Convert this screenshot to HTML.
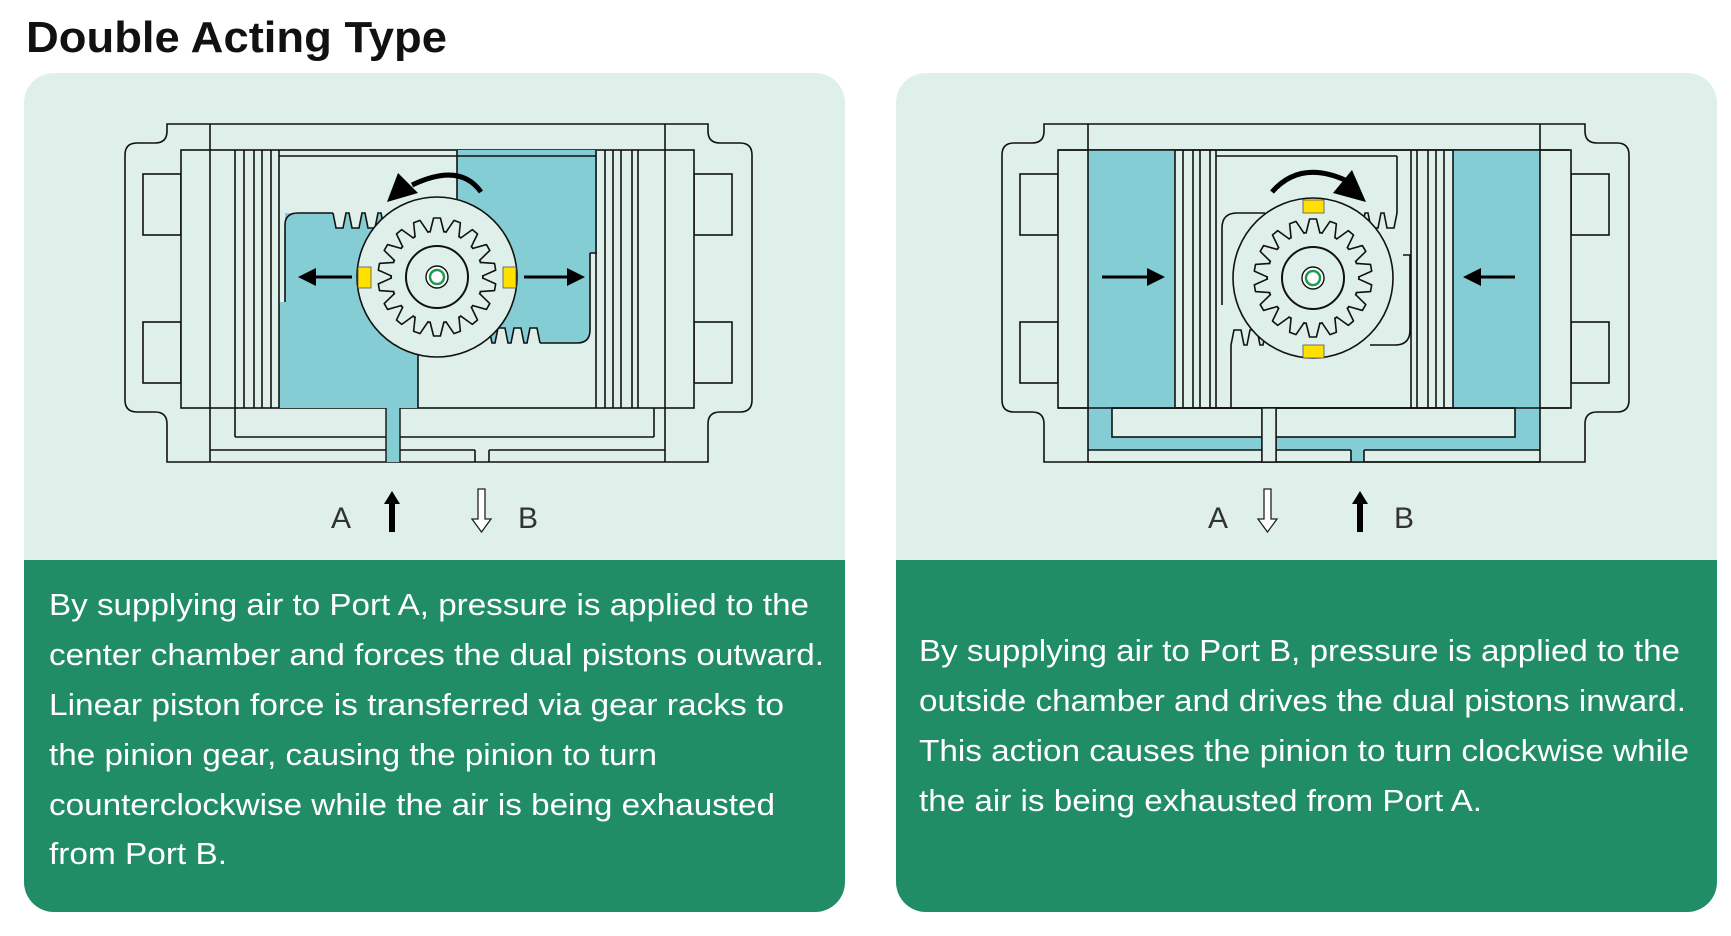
<!DOCTYPE html>
<html><head><meta charset="utf-8"><style>
html,body{margin:0;padding:0;background:#fff;}
svg{display:block;}
text{font-family:"Liberation Sans",sans-serif;}
</style></head><body>
<svg width="1731" height="936" viewBox="0 0 1731 936" xmlns="http://www.w3.org/2000/svg">
<defs>
<clipPath id="c1"><rect x="24" y="73" width="821" height="839" rx="30"/></clipPath>
<clipPath id="c2"><rect x="896" y="73" width="821" height="839" rx="30"/></clipPath>
<g id="body">
  <path d="M167,124 H708 V131 Q708,143 720,143 H740 Q752,143 752,155 V400 Q752,412 740,412 H720 Q708,412 708,424 V462 H167 V424 Q167,412 155,412 H137 Q125,412 125,400 V155 Q125,143 137,143 H155 Q167,143 167,131 Z" fill="#dfefe9" stroke="#111" stroke-width="1.6"/>
  <rect x="143" y="174" width="38" height="61" fill="#dfefe9" stroke="#111" stroke-width="1.6"/>
  <rect x="143" y="322" width="38" height="61" fill="#dfefe9" stroke="#111" stroke-width="1.6"/>
  <rect x="694" y="174" width="38" height="61" fill="#dfefe9" stroke="#111" stroke-width="1.6"/>
  <rect x="694" y="322" width="38" height="61" fill="#dfefe9" stroke="#111" stroke-width="1.6"/>
  <rect x="181" y="150" width="513" height="258" fill="#dfefe9" stroke="#111" stroke-width="1.6"/>
</g>
<polygon id="tooth" points="-6.8,-40 -6.8,-45.5 -3.4,-59 3.4,-59 6.8,-45.5 6.8,-40" fill="#dfefe9" stroke="#111" stroke-width="1.6" stroke-linejoin="round"/>
<g id="gear">
  <circle r="80" fill="#dfefe9" stroke="#111" stroke-width="1.6"/>
  <circle r="46" fill="#dfefe9" stroke="#111" stroke-width="1.6"/>
  <use href="#tooth" transform="rotate(0)"/><use href="#tooth" transform="rotate(20)"/><use href="#tooth" transform="rotate(40)"/>
  <use href="#tooth" transform="rotate(60)"/><use href="#tooth" transform="rotate(80)"/><use href="#tooth" transform="rotate(100)"/>
  <use href="#tooth" transform="rotate(120)"/><use href="#tooth" transform="rotate(140)"/><use href="#tooth" transform="rotate(160)"/>
  <use href="#tooth" transform="rotate(180)"/><use href="#tooth" transform="rotate(200)"/><use href="#tooth" transform="rotate(220)"/>
  <use href="#tooth" transform="rotate(240)"/><use href="#tooth" transform="rotate(260)"/><use href="#tooth" transform="rotate(280)"/>
  <use href="#tooth" transform="rotate(300)"/><use href="#tooth" transform="rotate(320)"/><use href="#tooth" transform="rotate(340)"/>
  <circle r="45" fill="#dfefe9"/>
  <circle r="31" fill="none" stroke="#111" stroke-width="2"/>
  <circle r="11" fill="#fff" stroke="#111" stroke-width="1.4"/>
  <circle r="7" fill="none" stroke="#1e9a50" stroke-width="2.5"/>
</g>
</defs>

<text x="26" y="52" font-size="44" font-weight="bold" fill="#111" textLength="421" lengthAdjust="spacingAndGlyphs">Double Acting Type</text>

<!-- LEFT CARD -->
<g clip-path="url(#c1)">
  <rect x="24" y="73" width="821" height="839" fill="#dfefe9"/>
  <rect x="24" y="560" width="821" height="352" fill="#218d67"/>
</g>
<use href="#body"/>
<path d="M285,213 H378 L400,230 L418,343 V408 H279 V302 H285 Z" fill="#84cdd4"/>
<path d="M285,302 V225 Q285,213 298,213 H333" fill="none" stroke="#111" stroke-width="1.6"/>
<path d="M457,150 H597 V253 H590 V330 Q590,343 577,343 H480 L470,330 L457,290 Z" fill="#84cdd4"/>
<path d="M590,253 H597 M590,253 V330 Q590,343 577,343 H540" fill="none" stroke="#111" stroke-width="1.6"/>
<path d="M457,150 V200 M418,343 V408" stroke="#111" stroke-width="1.6"/>
<path d="M333,213 l3,15 h7 l3,-15 h3 l3,15 h7 l3,-15 h3 l3,15 h7 l3,-15 h3 l3,15 h7 l3,-15" fill="#dfefe9" stroke="#111" stroke-width="1.6"/>
<path d="M540,343 l-3,-15 h-7 l-3,15 h-3 l-3,-15 h-7 l-3,15 h-3 l-3,-15 h-7 l-3,15 h-3 l-3,-15 h-7 l-3,15" fill="#dfefe9" stroke="#111" stroke-width="1.6"/>
<g stroke="#111" stroke-width="1.6">
<line x1="235" y1="150" x2="235" y2="408"/><line x1="244" y1="150" x2="244" y2="408"/><line x1="254" y1="150" x2="254" y2="408"/><line x1="262" y1="150" x2="262" y2="408"/><line x1="271" y1="150" x2="271" y2="408"/><line x1="279" y1="150" x2="279" y2="408"/>
<line x1="596" y1="150" x2="596" y2="408"/><line x1="605" y1="150" x2="605" y2="408"/><line x1="613" y1="150" x2="613" y2="408"/><line x1="621" y1="150" x2="621" y2="408"/><line x1="632" y1="150" x2="632" y2="408"/><line x1="638" y1="150" x2="638" y2="408"/>
<line x1="279" y1="156" x2="596" y2="156"/>
<line x1="210" y1="124" x2="210" y2="462"/><line x1="665" y1="124" x2="665" y2="462"/>
<line x1="235" y1="408" x2="235" y2="437"/><line x1="654" y1="408" x2="654" y2="437"/>
<line x1="235" y1="437" x2="386" y2="437"/><line x1="400" y1="437" x2="654" y2="437"/>
<line x1="210" y1="450" x2="386" y2="450"/><line x1="400" y1="450" x2="475" y2="450"/><line x1="489" y1="450" x2="665" y2="450"/>
<line x1="475" y1="450" x2="475" y2="462"/><line x1="489" y1="450" x2="489" y2="462"/>
</g>
<rect x="386" y="408" width="14" height="54" fill="#84cdd4"/>
<line x1="386" y1="408" x2="386" y2="462" stroke="#111" stroke-width="1.4"/>
<line x1="400" y1="408" x2="400" y2="462" stroke="#111" stroke-width="1.4"/>
<use href="#gear" transform="translate(437,277)"/>
<rect x="358" y="267" width="13" height="21" fill="#ffe000" stroke="#555" stroke-width="0.8"/>
<rect x="503" y="267" width="13" height="21" fill="#ffe000" stroke="#555" stroke-width="0.8"/>
<line x1="352" y1="277" x2="312" y2="277" stroke="#000" stroke-width="3"/>
<path d="M298,277 L316,268 L316,286 Z" fill="#000"/>
<line x1="524" y1="277" x2="570" y2="277" stroke="#000" stroke-width="3"/>
<path d="M585,277 L567,268 L567,286 Z" fill="#000"/>
<path d="M481,192 Q460,162 412,185" fill="none" stroke="#000" stroke-width="5"/>
<path d="M387,202 L398,173 L418,193 Z" fill="#000"/>
<text x="331" y="528" font-size="30" fill="#333">A</text>
<path d="M392,491 L400,504 H395 V532 H389 V504 H384 Z" fill="#000"/>
<path d="M478,489 H485 V519 H491 L481.5,532 L472,519 H478 Z" fill="#fff" stroke="#222" stroke-width="1.3"/>
<text x="518" y="528" font-size="30" fill="#333">B</text>
<g font-size="31" fill="#fff">
<text x="49" y="615" textLength="760" lengthAdjust="spacingAndGlyphs">By supplying air to Port A, pressure is applied to the</text>
<text x="49" y="665" textLength="775" lengthAdjust="spacingAndGlyphs">center chamber and forces the dual pistons outward.</text>
<text x="49" y="715" textLength="735" lengthAdjust="spacingAndGlyphs">Linear piston force is transferred via gear racks to</text>
<text x="49" y="765" textLength="608" lengthAdjust="spacingAndGlyphs">the pinion gear, causing the pinion to turn</text>
<text x="49" y="815" textLength="726" lengthAdjust="spacingAndGlyphs">counterclockwise while the air is being exhausted</text>
<text x="49" y="864" textLength="178" lengthAdjust="spacingAndGlyphs">from Port B.</text>
</g>

<!-- RIGHT CARD -->
<g clip-path="url(#c2)">
  <rect x="896" y="73" width="821" height="839" fill="#dfefe9"/>
  <rect x="896" y="560" width="821" height="352" fill="#218d67"/>
</g>
<use href="#body" transform="translate(877,0)"/>
<rect x="1088" y="150" width="87" height="258" fill="#84cdd4"/>
<rect x="1453" y="150" width="87" height="258" fill="#84cdd4"/>
<path d="M1088,408 H1112 V437 H1515 V408 H1540 V450 H1088 Z" fill="#84cdd4"/>
<rect x="1351" y="450" width="13" height="12" fill="#84cdd4"/>
<g stroke="#111" stroke-width="1.6" fill="none">
<line x1="1088" y1="124" x2="1088" y2="462"/><line x1="1540" y1="124" x2="1540" y2="462"/>
<line x1="1058" y1="150" x2="1569" y2="150"/><line x1="1058" y1="408" x2="1569" y2="408"/>
<line x1="1175" y1="150" x2="1175" y2="408"/><line x1="1183" y1="150" x2="1183" y2="408"/><line x1="1193" y1="150" x2="1193" y2="408"/><line x1="1200" y1="150" x2="1200" y2="408"/><line x1="1210" y1="150" x2="1210" y2="408"/><line x1="1216" y1="150" x2="1216" y2="408"/>
<line x1="1411" y1="150" x2="1411" y2="408"/><line x1="1417" y1="150" x2="1417" y2="408"/><line x1="1428" y1="150" x2="1428" y2="408"/><line x1="1436" y1="150" x2="1436" y2="408"/><line x1="1444" y1="150" x2="1444" y2="408"/><line x1="1453" y1="150" x2="1453" y2="408"/>
<line x1="1216" y1="156" x2="1397" y2="156"/>
<rect x="1112" y="408" width="403" height="29"/>
<line x1="1088" y1="450" x2="1262" y2="450"/><line x1="1276" y1="450" x2="1351" y2="450"/><line x1="1364" y1="450" x2="1540" y2="450"/>
<line x1="1262" y1="408" x2="1262" y2="462"/><line x1="1276" y1="408" x2="1276" y2="462"/>
<line x1="1351" y1="450" x2="1351" y2="462"/><line x1="1364" y1="450" x2="1364" y2="462"/>
<line x1="1088" y1="462" x2="1540" y2="462"/>
<path d="M1222,305 V228 Q1222,213 1237,213 H1265"/>
<path d="M1397,156 V213"/>
<path d="M1231,408 V345"/>
<path d="M1403,255 H1410 V330 Q1410,345 1395,345 H1370"/>
</g>
<path d="M1397,213 l-3,15 h-7 l-3,-15 h-3 l-3,15 h-7 l-3,-15 h-3 l-3,15 h-7 l-3,-15 h-3 l-3,15 h-7 l-3,-15" fill="#dfefe9" stroke="#111" stroke-width="1.6"/>
<path d="M1231,345 l3,-15 h7 l3,15 h3 l3,-15 h7 l3,15 h3 l3,-15 h7 l3,15 h3 l3,-15 h7 l3,15" fill="#dfefe9" stroke="#111" stroke-width="1.6"/>
<rect x="1262" y="408" width="14" height="54" fill="#dfefe9" stroke="#111" stroke-width="1.4"/>
<use href="#gear" transform="translate(1313,278)"/>
<rect x="1303" y="200" width="21" height="13" fill="#ffe000" stroke="#555" stroke-width="0.8"/>
<rect x="1303" y="345" width="21" height="13" fill="#ffe000" stroke="#555" stroke-width="0.8"/>
<line x1="1102" y1="277" x2="1150" y2="277" stroke="#000" stroke-width="3"/>
<path d="M1165,277 L1147,268 L1147,286 Z" fill="#000"/>
<line x1="1515" y1="277" x2="1477" y2="277" stroke="#000" stroke-width="3"/>
<path d="M1463,277 L1481,268 L1481,286 Z" fill="#000"/>
<path d="M1272,192 Q1300,160 1345,180" fill="none" stroke="#000" stroke-width="5"/>
<path d="M1366,202 L1333,193 L1352,170 Z" fill="#000"/>
<text x="1208" y="528" font-size="30" fill="#333">A</text>
<path d="M1264,489 H1271 V519 H1277 L1267.5,532 L1258,519 H1264 Z" fill="#fff" stroke="#222" stroke-width="1.3"/>
<path d="M1360,491 L1368,504 H1363 V532 H1357 V504 H1352 Z" fill="#000"/>
<text x="1394" y="528" font-size="30" fill="#333">B</text>
<g font-size="31" fill="#fff">
<text x="919" y="661" textLength="761" lengthAdjust="spacingAndGlyphs">By supplying air to Port B, pressure is applied to the</text>
<text x="919" y="711" textLength="767" lengthAdjust="spacingAndGlyphs">outside chamber and drives the dual pistons inward.</text>
<text x="919" y="761" textLength="770" lengthAdjust="spacingAndGlyphs">This action causes the pinion to turn clockwise while</text>
<text x="919" y="811" textLength="563" lengthAdjust="spacingAndGlyphs">the air is being exhausted from Port A.</text>
</g>
</svg>
</body></html>
